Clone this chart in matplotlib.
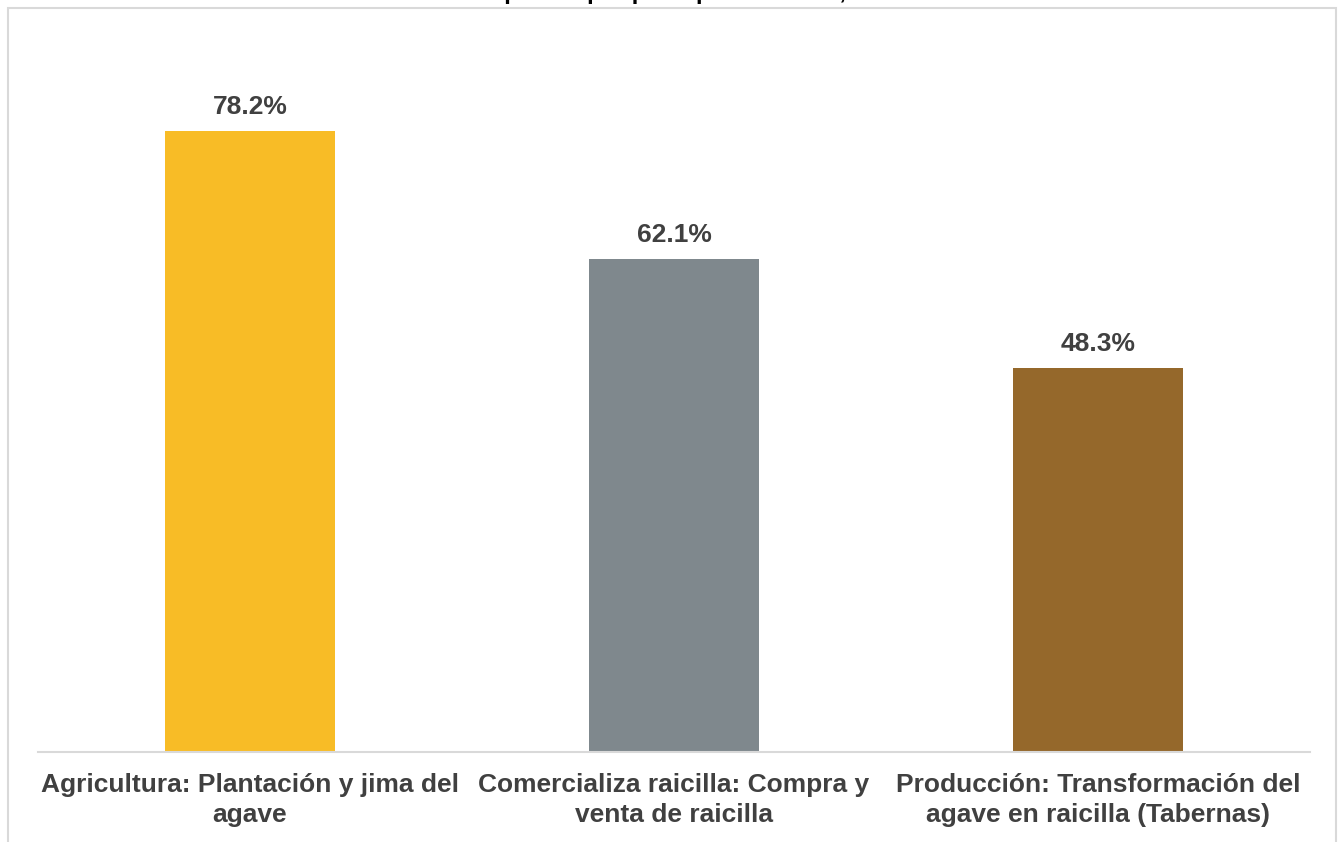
import matplotlib.pyplot as plt
from matplotlib.patches import Rectangle

# datos
categorias = [
    "Agricultura: Plantación y jima del\nagave",
    "Comercializa raicilla: Compra y\nventa de raicilla",
    "Producción: Transformación del\nagave en raicilla (Tabernas)",
]
porcentajes = [78.2, 62.1, 48.3]
colores = ["#F8BC26", "#7F888D", "#95682B"]

plt.rcParams["font.family"] = ["Liberation Sans", "DejaVu Sans"]

W, H = 1338, 842
fig = plt.figure(figsize=(W / 100, H / 100), dpi=100)

# marco gris del área del gráfico (se sale por abajo)
fig.patches.append(Rectangle((8 / W, -0.05), (1336 - 8) / W, 1 - 8 / H + 0.05,
                             transform=fig.transFigure, fill=False,
                             edgecolor="#D9D9D9", linewidth=1.5))

# título recortado por arriba, como en el original
fig.text(0.5, 1 + 1.5 / H, "Participantes por principal actividad, 2023",
         ha="center", va="baseline", fontsize=17, fontweight="bold", color="black")

ax = fig.add_axes([38 / W, (H - 752) / H, (1310 - 38) / W, (752 - 37) / H])
x = range(len(categorias))
bars = ax.bar(x, porcentajes, width=0.4, color=colores)
ax.set_xlim(-0.5, 2.5)
ax.set_ylim(0, 90)

for b, v in zip(bars, porcentajes):
    ax.text(b.get_x() + b.get_width() / 2, v + 1.5, f"{v:.1f}%",
            ha="center", va="bottom", fontsize=19, fontweight="bold", color="#404040")

for s in ["top", "right", "left"]:
    ax.spines[s].set_visible(False)
ax.spines["bottom"].set_color("#D9D9D9")
ax.spines["bottom"].set_linewidth(1.5)
ax.set_yticks([])
ax.set_xticks(list(x))
ax.set_xticklabels(categorias, fontsize=19, fontweight="bold", color="#404040",
                   linespacing=1.35)
ax.tick_params(axis="x", length=0, pad=15)

fig.savefig("out.png", dpi=100)
